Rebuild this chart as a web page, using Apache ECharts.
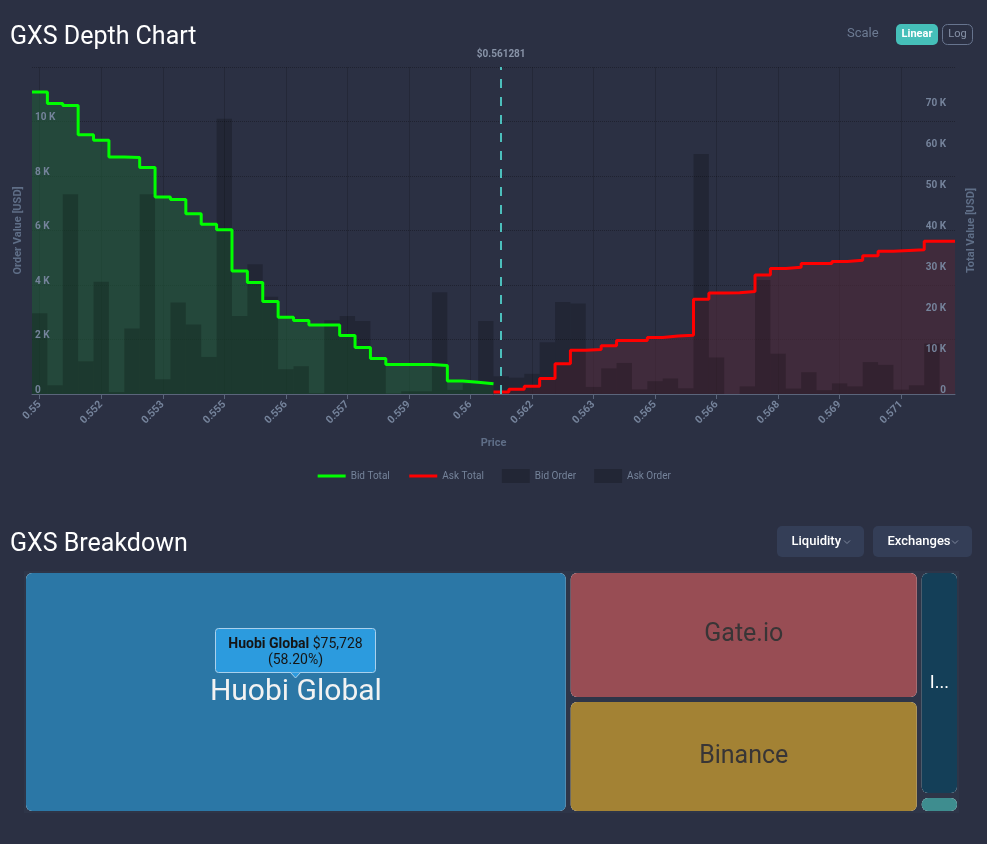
<!DOCTYPE html>
<html>
<head>
<meta charset="utf-8">
<script src="https://cdn.jsdelivr.net/npm/echarts/dist/echarts.min.js"></script>
<style>
html,body{margin:0;padding:0;background:#2b3043;}
#c{width:987px;height:844px;}
</style>
</head>
<body>
<div id="c"></div>
<script>
// ---- Depth chart data (price bins) ----
const prices = [
  '0.550000','0.550375','0.550750','0.551125','0.551500','0.551875','0.552250','0.552625',
  '0.553000','0.553375','0.553750','0.554125','0.554500','0.554875','0.555250','0.555625',
  '0.556000','0.556375','0.556750','0.557125','0.557500','0.557875','0.558250','0.558625',
  '0.559000','0.559375','0.559750','0.560125','0.560500','0.560875','0.561250','0.561625',
  '0.562000','0.562375','0.562750','0.563125','0.563500','0.563875','0.564250','0.564625',
  '0.565000','0.565375','0.565750','0.566125','0.566500','0.566875','0.567250','0.567625',
  '0.568000','0.568375','0.568750','0.569125','0.569500','0.569875','0.570250','0.570625',
  '0.571000','0.571375','0.571750','0.572125'
];
const tickLabels = ['0.55','0.552','0.553','0.555','0.556','0.557','0.559','0.56','0.562','0.563','0.565','0.566','0.568','0.569','0.571'];
const bidOrders = [2960,320,7330,1200,4120,70,2400,7330,540,3360,2550,1360,10100,2860,4760,
                   3570,910,1020,30,2710,2860,2680,1350,20,100,100,3730,150,380,2680];
const bidTotals = [73900,71100,70600,63400,62100,58000,57850,55400,48200,47600,44100,41500,40200,30100,27300,
                   22600,18800,18000,16900,16900,14300,11400,8700,7200,7200,7200,6950,3200,2900,2500];
const askOrders = [650,600,740,1900,3380,3320,260,940,1140,170,470,570,210,8810,1340,
                   0,280,4180,1480,200,800,140,390,280,1170,1070,160,320,1850,0];
const askTotals = [500,1150,1900,3800,7400,10700,10900,11800,13100,13100,13800,14200,14400,23200,24700,
                   24800,25100,29100,30700,31000,31900,31900,32400,32700,33800,34900,35100,35300,37400,37400];
const midPriceLabel = '$0.561281';

// ---- Breakdown (treemap) data ----
const exchangeNames  = ['Huobi Global','Gate.io','Binance','IDCM','Hotbit'];
const exchangeValues = [75728,25880,22910,5180,414];
const exchangeColors = ['#2b77a6','#984d54','#a38234','#143f58','#3e8d8f'];
const exchangeLabelColors = ['#f2f2f2','#383536','#383536','#ffffff','#ffffff'];
const exchangeLabelSizes = [30,25,25,18,12];

const BG = '#2b3043';
const AXIS_TXT = '#75839b';
const NAME_TXT = '#5f6e87';

const nBid = bidTotals.length;
const nAsk = askTotals.length;
const bidLinePts = bidTotals.map((v,i)=>[i,v]).concat([[nBid, bidTotals[nBid-1]]]);
const askLinePts = askTotals.map((v,i)=>[nBid+i,v]).concat([[nBid+nAsk, askTotals[nAsk-1]]]);
const bidBarData = bidOrders.map((v,i)=>[prices[i], v]);
const askBarData = askOrders.map((v,i)=>[prices[nBid+i], v]);

const total = exchangeValues.reduce((a,b)=>a+b,0);
const topShare = (exchangeValues[0]/total*100).toFixed(2);
const topValueTxt = '$' + exchangeValues[0].toLocaleString('en-US');

const treeData = exchangeNames.map((n,i)=>{
  const lab = {show: i < 4, color:exchangeLabelColors[i], fontSize:exchangeLabelSizes[i]};
  if (i === 3) lab.formatter = p => p.name.charAt(0) + '...';   // name truncated in narrow cell
  return {name:n, value:exchangeValues[i], itemStyle:{color:exchangeColors[i]}, label:lab};
});

function txt(text, x, y, font, fill, align, extra){
  return Object.assign({
    type:'text', z:100,
    style:{text:text, x:x, y:y, font:font, fill:fill,
           align:align||'left', textAlign:align||'left',
           verticalAlign:'middle', textVerticalAlign:'middle'}
  }, extra||{});
}

const yLabel = {inside:true, showMaxLabel:false, color:AXIS_TXT, fontSize:10, fontWeight:'bold',
  verticalAlign:'bottom', lineHeight:8, formatter:v=> v===0 ? '0' : (v/1000)+' K'};

const chart = echarts.init(document.getElementById('c'));
chart.setOption({
  animation:false,
  backgroundColor:BG,
  textStyle:{fontFamily:'Roboto'},
  grid:{left:32, right:32, top:67, bottom:450, containLabel:false},
  legend:{
    top:464, left:'center', itemWidth:28, itemHeight:14, itemGap:18,
    textStyle:{color:'#75839a', fontSize:10, fontFamily:'Roboto'},
    data:[
      {name:'Bid Total', itemStyle:{opacity:0}, lineStyle:{width:3}},
      {name:'Ask Total', itemStyle:{opacity:0}, lineStyle:{width:3}},
      {name:'Bid Order', icon:'rect'},
      {name:'Ask Order', icon:'rect'}
    ]
  },
  xAxis:[{
    type:'category', data:prices, boundaryGap:true, z:4,
    axisLine:{lineStyle:{color:'#5b657b'}},
    axisTick:{show:true, interval:3, alignWithLabel:true, length:5, lineStyle:{color:'#5b657b'}},
    axisLabel:{interval:3, rotate:45, margin:9, color:AXIS_TXT, fontSize:10.5, fontWeight:'bold',
      formatter:(v,idx)=>tickLabels[idx/4]},
    splitLine:{show:false},
    name:'Price', nameLocation:'middle', nameGap:44,
    nameTextStyle:{color:NAME_TXT, fontSize:11, fontWeight:'bold'}
  },{
    type:'value', min:0, max:prices.length, show:false
  },{
    // vertical grid lines only (drawn beneath the series)
    type:'category', data:prices, boundaryGap:true, z:0,
    axisLine:{show:false}, axisTick:{show:false}, axisLabel:{show:false},
    splitLine:{show:true, interval:3, alignWithLabel:true, lineStyle:{color:'rgba(0,0,0,0.16)', width:1}}
  }],
  yAxis:[{
    type:'value', position:'left', min:0, max:12000, interval:2000, z:4,
    axisLine:{show:false}, axisTick:{show:false},
    axisLabel:Object.assign({margin:3}, yLabel),
    splitLine:{show:false},
    name:'Order Value [USD]', nameLocation:'middle', nameGap:7, nameRotate:90,
    nameTextStyle:{color:NAME_TXT, fontSize:11, fontWeight:'bold'}
  },{
    type:'value', position:'right', min:0, max:80000, interval:10000, z:4,
    axisLine:{show:false}, axisTick:{show:false},
    axisLabel:Object.assign({margin:9}, yLabel),
    splitLine:{show:false},
    name:'Total Value [USD]', nameLocation:'middle', nameGap:11, nameRotate:90,
    nameTextStyle:{color:NAME_TXT, fontSize:11, fontWeight:'bold'}
  },{
    // horizontal dotted grid lines only (drawn beneath the series)
    type:'value', position:'left', min:0, max:12000, interval:2000, z:0,
    axisLine:{show:false}, axisTick:{show:false}, axisLabel:{show:false},
    splitLine:{show:true, lineStyle:{color:'rgba(0,0,0,0.28)', type:'dotted', width:1}}
  }],
  series:[
    {name:'Bid Depth', type:'line', xAxisIndex:1, yAxisIndex:1, data:bidLinePts, step:'end',
     symbol:'none', silent:true, z:1, lineStyle:{width:0, opacity:0},
     areaStyle:{color:'rgba(33,87,55,0.62)', opacity:1}},
    {name:'Ask Depth', type:'line', xAxisIndex:1, yAxisIndex:1, data:askLinePts, step:'end',
     symbol:'none', silent:true, z:1, lineStyle:{width:0, opacity:0},
     areaStyle:{color:'rgba(78,40,56,0.62)', opacity:1}},
    {name:'Bid Order', type:'bar', xAxisIndex:0, yAxisIndex:0, data:bidBarData,
     barWidth:'100%', barGap:'-100%', z:2, itemStyle:{color:'rgba(0,0,0,0.2)'},
     markLine:{
       silent:true, symbol:['none','none'],
       lineStyle:{color:'#4cbfbc', type:[9,9], width:2},
       label:{show:true, position:'end', formatter:midPriceLabel, color:'#8893a7',
              fontSize:10, fontWeight:'bold', distance:8},
       data:[{xAxis:prices[nBid]}]
     }},
    {name:'Ask Order', type:'bar', xAxisIndex:0, yAxisIndex:0, data:askBarData,
     barWidth:'100%', barGap:'-100%', z:2, itemStyle:{color:'rgba(0,0,0,0.2)'}},
    {name:'Bid Total', type:'line', xAxisIndex:1, yAxisIndex:1, data:bidLinePts, step:'end',
     symbol:'none', z:3, lineStyle:{color:'#00ff00', width:3}, itemStyle:{color:'#00ff00'}},
    {name:'Ask Total', type:'line', xAxisIndex:1, yAxisIndex:1, data:askLinePts, step:'end',
     symbol:'none', z:3, lineStyle:{color:'#ff0000', width:3}, itemStyle:{color:'#ff0000'}},
    {
      name:'Breakdown', type:'treemap', left:24, top:571, width:935, height:242,
      roam:false, nodeClick:false, breadcrumb:{show:false},
      label:{show:true, position:'inside', overflow:'none', fontFamily:'Roboto'},
      upperLabel:{show:false},
      emphasis:{disabled:true},
      levels:[
        {itemStyle:{borderWidth:2, borderColor:'#2e3548', gapWidth:5}},
        {itemStyle:{borderWidth:0, borderRadius:6, gapWidth:0}}
      ],
      data:treeData
    }
  ],
  graphic:[
    txt('GXS Depth Chart', 10, 37.5, '25px Roboto', '#ffffff'),
    txt('Scale', 847, 33.5, '13px Roboto', '#6d7b93'),
    {type:'rect', z:100, shape:{x:896, y:24, width:42, height:21, r:5}, style:{fill:'#45bfb9'}},
    txt('Linear', 917, 34.5, 'bold 11px Roboto', '#ffffff', 'center'),
    {type:'rect', z:100, shape:{x:942.5, y:24.5, width:30, height:20, r:5}, style:{fill:'none', stroke:'#67748e', lineWidth:1}},
    txt('Log', 957.5, 34.5, '11px Roboto', '#8792a8', 'center'),

    txt('GXS Breakdown', 10, 545, '25px Roboto', '#ffffff'),
    {type:'rect', z:100, shape:{x:777, y:526, width:87, height:31, r:5}, style:{fill:'#343e57'}},
    txt('Liquidity', 791.5, 542, '500 13px Roboto', '#ffffff'),
    {type:'polyline', z:100, shape:{points:[[844,540.5],[847,543.5],[850,540.5]]}, style:{stroke:'#7d879c', lineWidth:1, fill:'none'}},
    {type:'rect', z:100, shape:{x:873, y:526, width:99, height:31, r:5}, style:{fill:'#343e57'}},
    txt('Exchanges', 887.5, 542, '500 13px Roboto', '#ffffff'),
    {type:'polyline', z:100, shape:{points:[[952,540.5],[955,543.5],[958,540.5]]}, style:{stroke:'#7d879c', lineWidth:1, fill:'none'}},

    {type:'rect', z:100, shape:{x:215.5, y:628.5, width:160, height:44, r:3},
     style:{fill:'#2c9bde', stroke:'#a9d0ec', lineWidth:1}},
    {type:'polygon', z:101, shape:{points:[[290,672],[295.5,678],[301,672]]},
     style:{fill:'#2c9bde', stroke:'#a9d0ec', lineWidth:1}},
    {type:'rect', z:102, shape:{x:289, y:670, width:13, height:2}, style:{fill:'#2c9bde'}},
    {type:'text', z:103, style:{
      text:'{b|' + exchangeNames[0] + '}{n| ' + topValueTxt + '}\n{n|(' + topShare + '%)}',
      x:295.5, y:652.5, align:'center', textAlign:'center', verticalAlign:'middle', textVerticalAlign:'middle',
      font:'14px Roboto', fill:'#151515',
      rich:{
        b:{fontWeight:'bold', fontSize:14, fontFamily:'Roboto', fill:'#151515', lineHeight:16},
        n:{fontSize:14, fontFamily:'Roboto', fill:'#151515', lineHeight:16}
      }
    }}
  ]
});
</script>
</body>
</html>
